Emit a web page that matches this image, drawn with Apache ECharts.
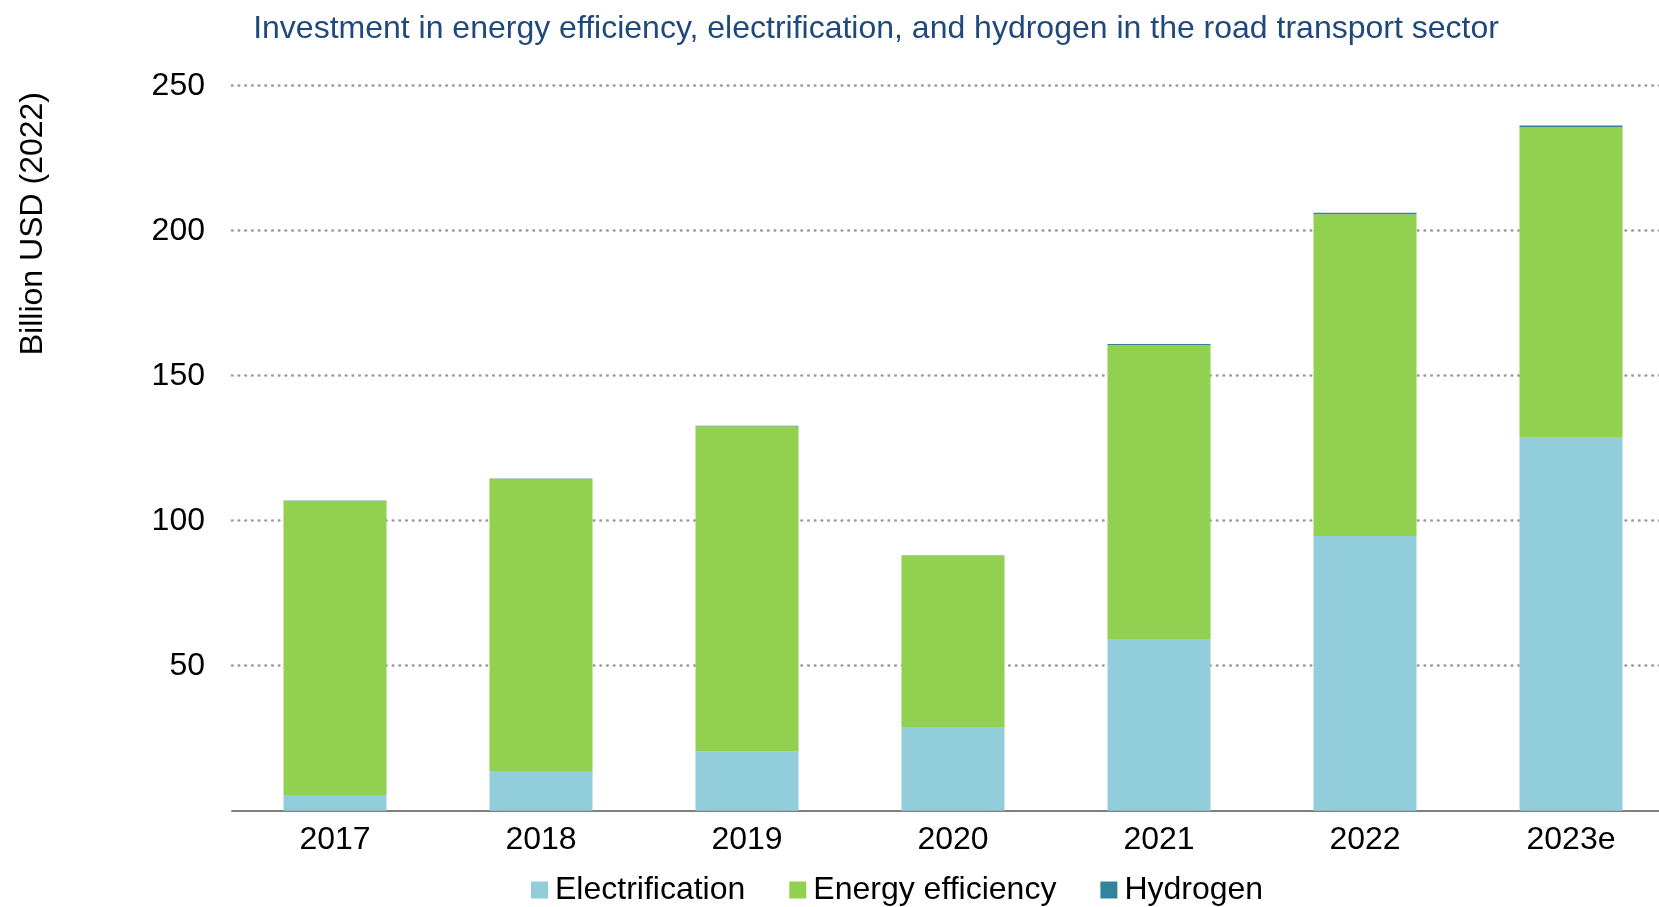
<!DOCTYPE html>
<html>
<head>
<meta charset="utf-8">
<script src="https://cdn.jsdelivr.net/npm/echarts@6/dist/echarts.min.js"></script>
<style>
  html, body { margin: 0; padding: 0; background: #ffffff; overflow: hidden; }
  #chart { width: 1680px; height: 907px; }
</style>
</head>
<body>
<div id="chart"></div>
<script>
// Road transport investment by technology, billion USD (2022)
const years = ['2017', '2018', '2019', '2020', '2021', '2022', '2023e'];
const electrification = [5.4, 13.7, 20.5, 28.9, 59.2, 94.7, 128.6];
const energyEfficiency = [101.5, 100.8, 112.1, 59.1, 101.4, 111.0, 107.1];
const hydrogen = [0.05, 0.05, 0.1, 0.1, 0.3, 0.5, 0.6];
const yTicks = [0, 50, 100, 150, 200, 250];

const FONT = '"Liberation Sans", Arial, sans-serif';
const colors = {
  elec: '#92CDDC',
  eff: '#92D050',
  h2: '#31849B'
};

// The plot area runs a little past the visible page on the right,
// so the chart canvas is wider than the window and clipped by it.
const chart = echarts.init(document.getElementById('chart'), null, { renderer: 'canvas' });

function barSeries(name, data, color) {
  return {
    name: name,
    type: 'bar',
    stack: 'total',
    barWidth: '50%',
    data: data,
    itemStyle: { color: color },
    emphasis: { disabled: true }
  };
}

chart.setOption({
  animation: false,
  textStyle: { fontFamily: FONT },
  title: {
    text: 'Investment in energy efficiency, electrification, and hydrogen in the road transport sector',
    left: 871,
    textAlign: 'center',
    top: 8,
    textStyle: {
      fontFamily: FONT,
      fontSize: 32,
      fontWeight: 'normal',
      color: '#1F497D'
    }
  },
  legend: {
    data: ['Electrification', 'Energy efficiency', 'Hydrogen'],
    left: 531,
    bottom: 1,
    padding: 0,
    icon: 'rect',
    itemWidth: 17,
    itemHeight: 17,
    itemGap: 44,
    textStyle: { fontFamily: FONT, fontSize: 32, color: '#000000', padding: [0, 0, 0, 2] }
  },
  graphic: [{
    type: 'text',
    left: 17,
    top: 92,
    rotation: Math.PI / 2,
    style: {
      text: 'Billion USD (2022)',
      font: '32px ' + FONT,
      fill: '#000000'
    }
  }],
  grid: {
    left: 232,
    top: 85.7,
    right: 6,
    bottom: 96.3,
    containLabel: false
  },
  xAxis: {
    type: 'category',
    data: years,
    axisLine: { show: true, lineStyle: { color: '#808080', width: 2 } },
    axisTick: { show: false },
    axisLabel: {
      fontFamily: FONT,
      fontSize: 32,
      color: '#000000',
      margin: 13
    }
  },
  yAxis: {
    type: 'value',
    min: yTicks[0],
    max: yTicks[yTicks.length - 1],
    interval: 50,
    axisLine: { show: false },
    axisTick: { show: false },
    axisLabel: {
      fontFamily: FONT,
      fontSize: 32,
      color: '#000000',
      margin: 27,
      formatter: function (v) { return v === 0 ? '' : String(v); }
    },
    splitLine: {
      show: true,
      showMinLine: false,
      lineStyle: { color: '#999999', width: 2.6, type: [0.5, 6.2], cap: 'round' }
    }
  },
  series: [
    barSeries('Electrification', electrification, colors.elec),
    barSeries('Energy efficiency', energyEfficiency, colors.eff),
    barSeries('Hydrogen', hydrogen, colors.h2)
  ]
});
</script>
</body>
</html>
